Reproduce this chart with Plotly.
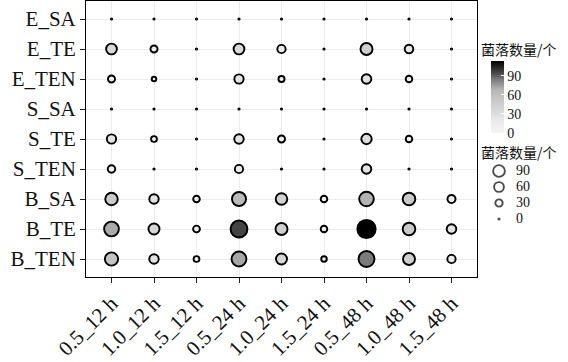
import numpy as np
import plotly.graph_objects as go

# ---------------- data ----------------
conditions = ["0.5_12 h", "1.0_12 h", "1.5_12 h", "0.5_24 h", "1.0_24 h",
              "1.5_24 h", "0.5_48 h", "1.0_48 h", "1.5_48 h"]
samples = ["E_SA", "E_TE", "E_TEN", "S_SA", "S_TE", "S_TEN", "B_SA", "B_TE", "B_TEN"]

E_SA = [0, 0, 0, 0, 0, 0, 0, 0, 0]
E_TE = [35, 13, 0, 35, 19, 0, 45, 21, 0]
E_TEN = [13, 4, 0, 25, 9, 0, 27, 11, 0]
S_SA = [0, 0, 0, 0, 0, 0, 0, 0, 0]
S_TE = [25, 8, 0, 26, 13, 0, 32, 11, 0]
S_TEN = [15, 0, 0, 19, 0, 0, 27, 0, 0]
B_SA = [49, 26, 11, 64, 41, 11, 69, 50, 18]
B_TE = [71, 37, 12, 95, 45, 11, 113, 50, 27]
B_TEN = [56, 26, 8, 72, 37, 7, 84, 45, 19]

legend_values = [90, 60, 30, 0]
colorbar_ticks = [0, 30, 60, 90]
legend_title = "菌落数量/个"

rows = [E_SA, E_TE, E_TEN, S_SA, S_TE, S_TEN, B_SA, B_TE, B_TEN]

# ---------------- build long table ----------------
xs, ys, vs = [], [], []
for name, vals in zip(samples, rows):
    for c, v in zip(conditions, vals):
        xs.append(c)
        ys.append(name)
        vs.append(v)
vs = np.array(vs, dtype=float)
vmax = vs.max()

LINE_W = 1.9
def size_scale(v):
    # overall diameter = 3 + 1.6*sqrt(v); marker size excludes the outline
    return 3.2 + 1.6 * np.sqrt(np.asarray(v, dtype=float)) - LINE_W

def legend_size_scale(v):
    return 3.2 + 1.1 * np.sqrt(np.asarray(v, dtype=float)) - LINE_W

def stop(val, col):
    return [val / vmax, col]

colorscale = [
    [0.0, "#f5f5f5"],
    stop(20, "#e9e9e9"),
    stop(35, "#d9d9d9"),
    stop(50, "#cacaca"),
    stop(68, "#b6b6b6"),
    stop(72, "#a6a6a6"),
    stop(84, "#7b7b7b"),
    stop(95, "#444444"),
    [1.0, "#000000"],
]

# ---------------- geometry (pixels) ----------------
W, H = 568, 362
ML, MR, MT, MB = 86, 5, 1, 85
PW = W - ML - MR
PH = H - MT - MB
plot_right_px = 477

def px_x(p):
    return (p - ML) / PW

def px_y(p):
    return (H - MB - p) / PH

serif = "Liberation Serif, Times New Roman, serif"
cjk = "Noto Sans CJK SC"

fig = go.Figure()

fig.add_trace(go.Scatter(
    x=xs, y=ys, mode="markers",
    marker=dict(
        size=size_scale(vs),
        color=vs, cmin=0, cmax=vmax,
        colorscale=colorscale,
        line=dict(color="black", width=LINE_W),
        opacity=1,
        colorbar=dict(
            x=px_x(491), xanchor="left",
            y=px_y(97), yanchor="middle",
            lenmode="pixels", len=72,
            thickness=13, thicknessmode="pixels",
            xpad=0, ypad=0,
            outlinewidth=0,
            tickvals=colorbar_ticks,
            ticks="inside", tickcolor="white", ticklen=3, tickwidth=1,
            tickfont=dict(family=serif, size=14, color="#111"),
        ),
    ),
    showlegend=False, hoverinfo="skip",
))

# size legend
leg_idx = list(range(len(legend_values)))
fig.add_trace(go.Scatter(
    x=[499] * len(legend_values), y=leg_idx, mode="markers",
    marker=dict(size=legend_size_scale(legend_values), color="white",
                line=dict(color="black", width=LINE_W)),
    xaxis="x2", yaxis="y2", showlegend=False, hoverinfo="skip",
))
for i, v in zip(leg_idx, legend_values):
    fig.add_annotation(x=514, y=i, xref="x2", yref="y2", text=str(v),
                       showarrow=False, xanchor="left", yanchor="middle",
                       font=dict(family=serif, size=14, color="#111"))

for yc in (49, 152):
    fig.add_annotation(x=px_x(479), y=px_y(yc), xref="paper", yref="paper",
                       text=legend_title, showarrow=False,
                       xanchor="left", yanchor="middle",
                       font=dict(family=cjk, size=14, color="#111"))

axis_common = dict(
    showgrid=True, gridcolor="#ececec", gridwidth=1,
    showline=True, mirror=True, linecolor="black", linewidth=1,
    ticks="outside", ticklen=5, tickcolor="#222", tickwidth=1,
    tickfont=dict(family=serif, size=21, color="#111"),
    zeroline=False, fixedrange=True,
)

leg_top, leg_bot = 163, 227
fig.update_layout(
    width=W, height=H,
    margin=dict(l=ML, r=MR, t=MT, b=MB),
    paper_bgcolor="white", plot_bgcolor="white",
    xaxis=dict(type="category", categoryorder="array", categoryarray=conditions,
               range=[-0.6, len(conditions) - 0.4], tickangle=-45,
               domain=[0, px_x(plot_right_px)], **axis_common),
    yaxis=dict(type="category", categoryorder="array", categoryarray=samples,
               range=[len(samples) - 0.4, -0.6], **axis_common),
    xaxis2=dict(domain=[px_x(480), 1], range=[480, W - MR], visible=False,
                anchor="y2", fixedrange=True),
    yaxis2=dict(domain=[px_y(leg_bot), px_y(leg_top)], range=[3.5, -0.5],
                visible=False, anchor="x2", fixedrange=True),
)

fig.write_html("out.html")
